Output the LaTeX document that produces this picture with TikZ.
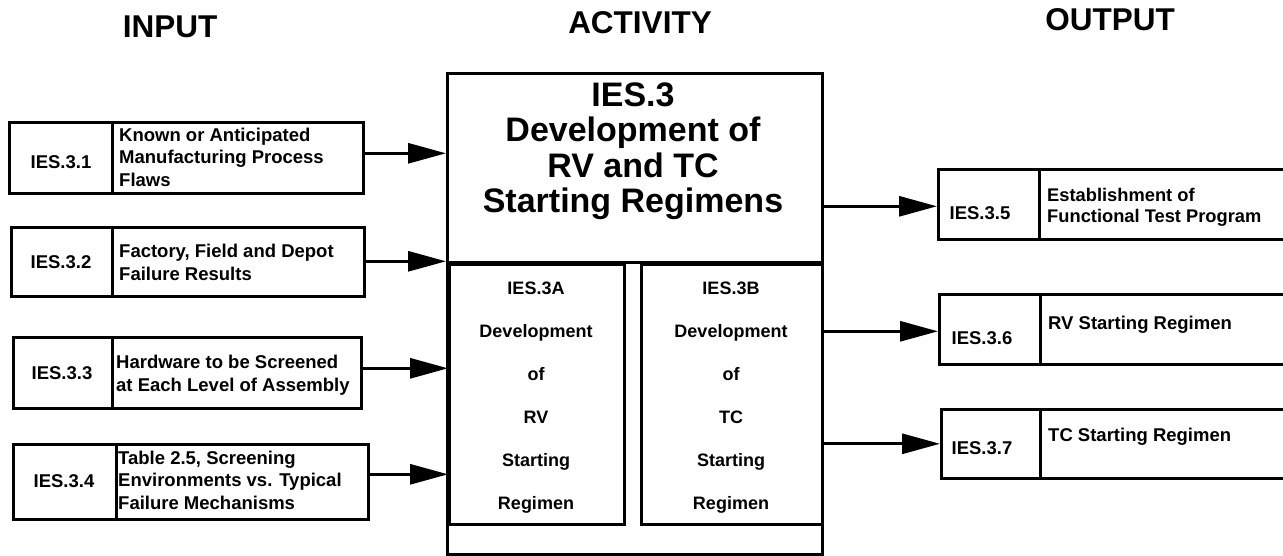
\documentclass[tikz,border=0pt]{standalone}
\usepackage{fontspec}
\setmainfont{Liberation Sans}
\usetikzlibrary{arrows.meta}
\begin{document}
\begin{tikzpicture}[x=1pt,y=-1pt,
  cell/.style={draw, line width=2.6pt, rectangle, inner sep=0pt, anchor=north west},
  arr/.style={line width=3pt, -{Triangle[length=38pt,width=20pt]}},
  hdr/.style={font=\fontsize{31.5}{34}\selectfont\bfseries, inner sep=0pt},
  desc/.style={font=\fontsize{18.5}{22.5}\selectfont\bfseries, align=left, inner sep=0pt, anchor=west},
  idt/.style={font=\fontsize{18.5}{22.5}\selectfont\bfseries, inner sep=0pt},
  title/.style={font=\fontsize{34}{35.5}\selectfont\bfseries, align=center, inner sep=0pt},
  subt/.style={font=\fontsize{18}{43}\selectfont\bfseries, align=center, inner sep=0pt}]
\clip (0,0) rectangle (1283,556);
\fill[white] (0,0) rectangle (1283,556);

% headers
\node[hdr] (hin) at (170,27) {INPUT};
\node[hdr] (hact) at (640,22.5) {ACTIVITY};
\node[hdr] (hout) at (1110,20) {OUTPUT};

% input boxes
\node[cell, minimum width=103pt, minimum height=71pt] (i1a) at (8,121) {};
\node[cell, minimum width=251pt, minimum height=71pt] (i1b) at (111,121) {};
\node[cell, minimum width=101pt, minimum height=69pt] (i2a) at (10,226) {};
\node[cell, minimum width=252pt, minimum height=69pt] (i2b) at (111,226) {};
\node[cell, minimum width=99pt, minimum height=71pt] (i3a) at (12,336) {};
\node[cell, minimum width=249pt, minimum height=71pt] (i3b) at (111,336) {};
\node[cell, minimum width=103pt, minimum height=75pt] (i4a) at (12,443) {};
\node[cell, minimum width=252pt, minimum height=75pt] (i4b) at (115,443) {};

\node[idt] (t1a) at (61,162) {IES.3.1};
\node[idt] (t2a) at (61,262) {IES.3.2};
\node[idt] (t3a) at (62,373) {IES.3.3};
\node[idt] (t4a) at (64,481) {IES.3.4};
\node[desc] (t1b) at (119,157) {Known or Anticipated\\Manufacturing Process\\Flaws};
\node[desc] (t2b) at (119,262.5) {Factory, Field and Depot\\Failure Results};
\node[desc] (t3b) at (116,375) {Hardware to be Screened\\at Each Level of Assembly};
\node[desc] (t4b) at (118,480) {Table 2.5, Screening\\Environments vs. Typical\\Failure Mechanisms};

% main activity box
\node[cell, minimum width=375pt, minimum height=481pt] (M) at (446,72) {};
\coordinate (sepL) at (446,262.5);
\coordinate (sepR) at (821,262.5);
\draw[line width=3.2pt] (sepL) -- (sepR);
\node[cell, minimum width=175pt, minimum height=259.5pt] (A) at (448,263.5) {};
\node[cell, minimum width=181pt, minimum height=259.5pt] (B) at (640,263.5) {};
\node[title] (Mt) at (633,151) {IES.3\\Development of\\RV and TC\\Starting Regimens};
\node[subt] (At) at (536,398) {IES.3A\\Development\\of\\RV\\Starting\\Regimen};
\node[subt] (Bt) at (731,398) {IES.3B\\Development\\of\\TC\\Starting\\Regimen};

% output boxes
\node[cell, minimum width=101pt, minimum height=70pt] (o5a) at (937,168) {};
\node[cell, minimum width=262pt, minimum height=70pt] (o5b) at (1038,168) {};
\node[cell, minimum width=101pt, minimum height=70pt] (o6a) at (938,293) {};
\node[cell, minimum width=262pt, minimum height=70pt] (o6b) at (1039,293) {};
\node[cell, minimum width=99pt, minimum height=69pt] (o7a) at (940,408) {};
\node[cell, minimum width=262pt, minimum height=69pt] (o7b) at (1039,408) {};

\node[idt] (t5a) at (980,213) {IES.3.5};
\node[idt] (t6a) at (982,338) {IES.3.6};
\node[idt] (t7a) at (982,448) {IES.3.7};
\node[desc, font=\fontsize{18.3}{21}\selectfont\bfseries] (t5b) at (1047,207.5) {Establishment of\\Functional Test Program};
\node[desc] (t6b) at (1048,325) {RV Starting Regimen};
\node[desc] (t7b) at (1048,437) {TC Starting Regimen};

% input arrows
\draw[arr] ([yshift=4.5pt]i1b.east) -- ([yshift=4.5pt]i1b.east -| M.west);
\draw[arr] ([yshift=0.5pt]i2b.east) -- ([yshift=0.5pt]i2b.east -| M.west);
\draw[arr] ([yshift=4.5pt]i3b.east) -- ([yshift=4.5pt]i3b.east -| A.west);
\draw[arr] ([yshift=7.5pt]i4b.east) -- ([yshift=7.5pt]i4b.east -| A.west);

% output arrows
\draw[arr] ([yshift=-2pt]o5a.west -| M.east) -- ([yshift=-2pt]o5a.west);
\draw[arr] ([yshift=-2pt]o6a.west -| M.east) -- ([yshift=-2pt]o6a.west);
\draw[arr] (o7a.west -| M.east) -- (o7a.west);
\end{tikzpicture}
\end{document}
